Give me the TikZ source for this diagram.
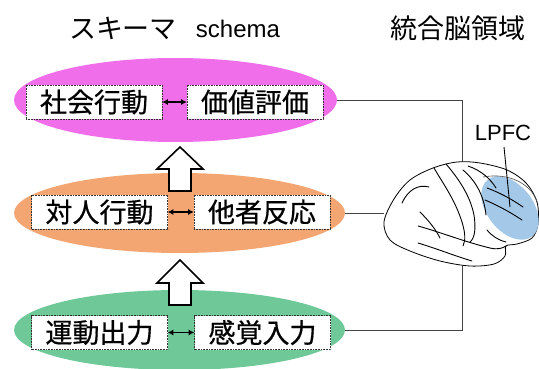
\documentclass[tikz,border=0pt]{standalone}
\usepackage{fontspec}
\setmainfont{Liberation Sans}
\newfontfamily\jpfont{Noto Sans CJK JP}
\newfontfamily\jpboxfont[FakeBold=0.6]{Noto Sans CJK JP}
\usetikzlibrary{shapes.geometric,arrows.meta}

\definecolor{schemaPink}{HTML}{F06EEA}
\definecolor{schemaOrange}{HTML}{F4A672}
\definecolor{schemaGreen}{HTML}{6FC898}
\definecolor{lpfcBlue}{HTML}{A4C8E8}
\definecolor{wireGray}{HTML}{444444}

\tikzset{
  layer/.style={ellipse, inner sep=0pt, draw=none},
  labelbox/.style={draw=black!80, densely dotted, line width=0.6pt, fill=white,
    minimum width=136pt, minimum height=34pt, inner sep=0pt,
    font=\jpboxfont\fontsize{27}{27}\selectfont},
  pairarrow/.style={line width=1.4pt, {Latex[length=5.5pt,width=6pt]}-{Latex[length=5.5pt,width=6pt]}},
  blockarrow/.style={draw=black, line width=1.6pt, fill=white, line join=miter},
  wire/.style={draw=wireGray, line width=0.9pt},
  heading/.style={font=\jpfont\fontsize{27}{27}\selectfont, inner sep=0pt},
  sulcus/.style={draw=black, line width=0.9pt, line cap=round},
}

\begin{document}
\begin{tikzpicture}[x=1pt, y=-1pt]
\useasboundingbox (0,0) rectangle (539,369);

% headings
\node[heading] (hKana) at (123,28) {スキーマ};
\node[font=\fontsize{24}{24}\selectfont, inner sep=0pt] (hSchema) at (238,29) {schema};
\node[heading] (hRegion) at (458,28) {統合脳領域};

% three schema layers
\node[layer, fill=schemaPink, minimum width=323pt, minimum height=84pt] (social) at (175.5,100) {};
\node[layer, fill=schemaOrange, minimum width=331pt, minimum height=80pt] (inter) at (179.5,213) {};
\node[layer, fill=schemaGreen, minimum width=331pt, minimum height=80pt] (motor) at (179.5,330) {};

% labelled boxes
\node[labelbox] (act) at (94,102) {社会行動};
\node[labelbox] (value) at (255,102) {価値評価};
\node[labelbox] (person) at (99.5,212) {対人行動};
\node[labelbox] (other) at (262,212) {他者反応};
\node[labelbox] (out) at (99.5,332.5) {運動出力};
\node[labelbox] (in) at (262.5,332.5) {感覚入力};

\draw[pairarrow] (act.east) -- (value.west);
\draw[pairarrow] (person.east) -- (other.west);
\draw[pairarrow] (out.east) -- (in.west);

% upward block arrows between layers
\coordinate (upA) at (180,147);
\coordinate (upB) at (180,260);
\draw[blockarrow] (upA) -- ++(23,22) -- ++(-12,0) -- ++(0,22) -- ++(-22,0) -- ++(0,-22) -- ++(-12,0) -- cycle;
\draw[blockarrow] (upB) -- ++(23,23) -- ++(-12,0) -- ++(0,22) -- ++(-22,0) -- ++(0,-22) -- ++(-12,0) -- cycle;

% brain
\coordinate (brainTop) at (462,162);
\coordinate (brainLeft) at (384,213);
\coordinate (brainBottom) at (462,265);

\draw[wire] (social.east) -| (brainTop);
\draw[wire] (inter.east) -- (brainLeft);
\draw[wire] (motor.east) -| (brainBottom);

\draw[black, line width=0.8pt, fill=white] plot[smooth cycle, tension=0.55] coordinates {
  (384,222) (394,199) (410,180) (433,168) (457,162) (480,163) (507,170)
  (526,183) (537,202) (538,224) (532,238) (517,244) (506,246)
  (505,256) (494,264) (470,266) (440,261) (410,251) (390,240)};

\fill[lpfcBlue, rotate around={-52:(510,208)}] (510,208) ellipse (36 and 23);
\draw[black!70, line width=0.6pt] (483,177) .. controls (510,172) and (532,185) .. (537,202);

% sulci
\draw[sulcus] (402,203) .. controls (408,190) and (418,184) .. (429,187);
\draw[sulcus] (434,168) .. controls (444,185) and (455,200) .. (462,222) .. controls (465,232) and (466,240) .. (463,246);
\draw[sulcus] (446,164) .. controls (458,178) and (470,195) .. (474,215) .. controls (476,228) and (475,238) .. (470,242);
\draw[sulcus] (463,170) .. controls (475,180) and (484,195) .. (486,215);
\draw[sulcus] (468,166) .. controls (480,170) and (490,178) .. (496,188);
\draw[sulcus] (487,188) .. controls (498,192) and (510,198) .. (523,207);
\draw[sulcus] (485,200) .. controls (497,205) and (510,212) .. (522,220);
\draw[sulcus] (420,212) .. controls (430,222) and (436,230) .. (440,238);
\draw[sulcus] (418,226) .. controls (440,232) and (465,242) .. (490,248) .. controls (498,250) and (503,248) .. (506,246);
\draw[sulcus] (418,243) .. controls (435,248) and (455,256) .. (472,261);
\draw[sulcus] (487,230) .. controls (492,236) and (498,240) .. (506,242);

% LPFC label and pointer
\node[font=\fontsize{22}{22}\selectfont, inner sep=0pt] (lpfc) at (503,133) {LPFC};
\draw[black, line width=0.9pt] (504,147) -- (510,207);
\end{tikzpicture}
\end{document}
